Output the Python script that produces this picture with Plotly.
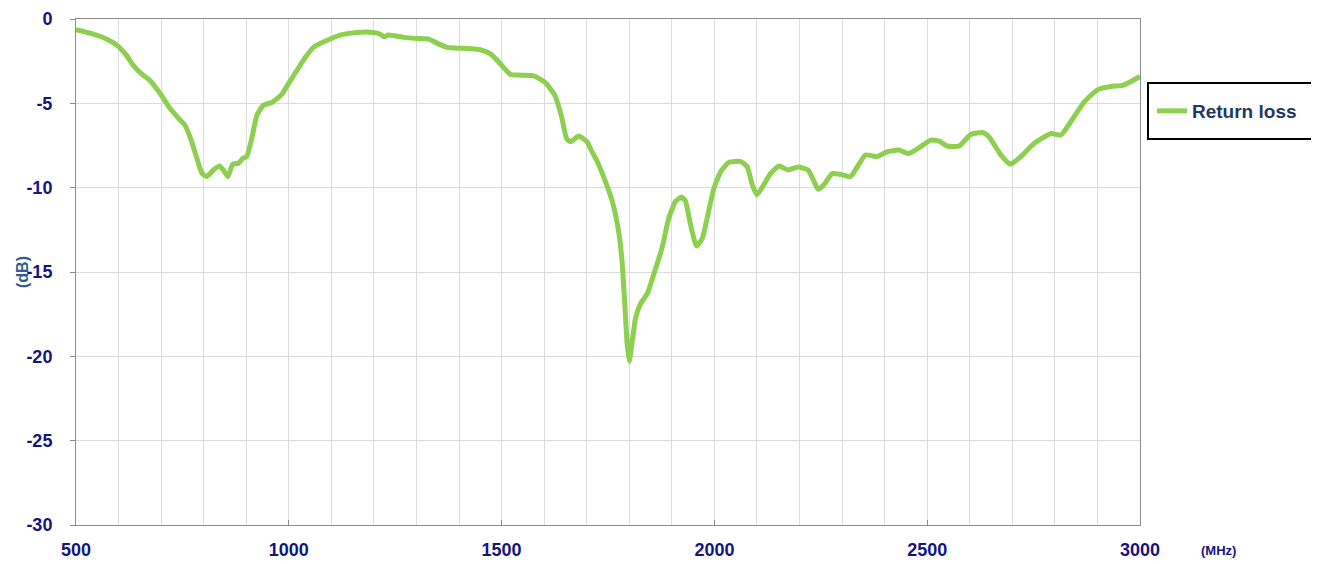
import plotly.graph_objects as go

freq_mhz = [500, 541, 572, 600, 619, 635, 654, 674, 698, 721, 745, 756, 772, 784, 796, 807,
            823, 837, 846, 857, 868, 882, 892, 901, 913, 925, 940, 960, 984, 1000, 1019, 1039,
            1058, 1097, 1125, 1160, 1199, 1215, 1224, 1234, 1270, 1301, 1329, 1348, 1372, 1411,
            1450, 1474, 1497, 1521, 1544, 1576, 1604, 1625, 1640, 1653, 1662, 1681, 1701, 1709,
            1725, 1744, 1760, 1775, 1783, 1789, 1795, 1800, 1805, 1815, 1826, 1842, 1858, 1877,
            1893, 1909, 1923, 1932, 1944, 1958, 1972, 1983, 1999, 2015, 2034, 2062, 2077, 2089,
            2100, 2116, 2132, 2152, 2173, 2197, 2220, 2234, 2244, 2257, 2277, 2300, 2320, 2355,
            2382, 2406, 2433, 2457, 2485, 2508, 2528, 2547, 2575, 2602, 2630, 2645, 2673, 2695,
            2720, 2751, 2791, 2814, 2845, 2869, 2900, 2931, 2959, 2979, 3000]
return_loss_db = [-0.64, -0.90, -1.19, -1.64, -2.17, -2.76, -3.25, -3.64, -4.43, -5.31, -6.00, -6.30,
                  -7.28, -8.26, -9.14, -9.34, -8.95, -8.71, -8.95, -9.34, -8.61, -8.55, -8.26, -8.16,
                  -7.08, -5.71, -5.11, -4.96, -4.45, -3.80, -3.05, -2.27, -1.68, -1.19, -0.93, -0.80,
                  -0.80, -0.90, -1.05, -0.95, -1.09, -1.15, -1.19, -1.43, -1.68, -1.74, -1.82, -2.07,
                  -2.65, -3.29, -3.33, -3.37, -3.80, -4.53, -5.70, -7.10, -7.28, -6.94, -7.28, -7.70,
                  -8.46, -9.64, -10.80, -12.60, -14.35, -16.70, -19.26, -20.30, -19.46, -17.70, -16.90,
                  -16.30, -15.10, -13.57, -11.80, -10.80, -10.56, -10.80, -12.20, -13.46, -12.98, -11.80,
                  -10.03, -9.05, -8.50, -8.45, -8.75, -9.83, -10.42, -9.83, -9.15, -8.72, -8.95, -8.77,
                  -8.95, -9.63, -10.10, -9.83, -9.17, -9.24, -9.34, -8.06, -8.16, -7.87, -7.77, -7.97,
                  -7.57, -7.18, -7.24, -7.53, -7.53, -6.85, -6.73, -6.98, -8.06, -8.61, -8.16, -7.38,
                  -6.79, -6.88, -5.80, -4.92, -4.20, -4.00, -3.94, -3.70, -3.41]

x_ticks = [500, 1000, 1500, 2000, 2500, 3000]
y_ticks = [0, -5, -10, -15, -20, -25, -30]
y_tick_text = ["0", "-5", "-10", "-15", "-20", "-25", "-30"]

FONT = "Liberation Sans, Arial, sans-serif"
NAVY = "#15157f"

# page body adds an ~8px offset; margins compensate so the plot lands at the reference position
L, T, R, B = 68, 11, 187, 47
PW, PH = 1319 - L - R, 564 - T - B


def px_x(px):
    return (px - 8 - L) / PW


def px_y(py):
    return (564 - B - (py - 8)) / PH


fig = go.Figure()
fig.add_trace(go.Scatter(
    x=freq_mhz, y=return_loss_db, mode="lines", name="<b>Return loss</b>",
    line=dict(color="#8DD04F", width=5, shape="spline", smoothing=0.5),
))

fig.update_layout(
    width=1319, height=564,
    margin=dict(l=L, r=R, t=T, b=B, autoexpand=False),
    paper_bgcolor="white", plot_bgcolor="white",
    font=dict(family=FONT),
    showlegend=True,
    legend=dict(x=px_x(1152), y=px_y(111), xanchor="left", yanchor="middle",
                bgcolor="rgba(0,0,0,0)", borderwidth=0,
                font=dict(family=FONT, size=19, color="#1f3864")),
    xaxis=dict(range=[500, 3000], tickmode="array", tickvals=x_ticks,
               showgrid=True, gridcolor="#dcdcdc",
               minor=dict(tickmode="linear", tick0=500, dtick=100, showgrid=True, gridcolor="#dcdcdc"),
               showline=True, mirror=True, linecolor="#8c8c8c", linewidth=1,
               ticks="inside", ticklen=5, tickcolor="#8c8c8c", automargin=False,
               ticklabeloverflow="allow",
               tickfont=dict(family=FONT, size=18, color=NAVY, weight="bold"), ticklabelstandoff=8,
               zeroline=False),
    yaxis=dict(range=[-30, 0], tickmode="array", tickvals=y_ticks, ticktext=y_tick_text, showgrid=True,
               gridcolor="#dcdcdc", showline=True, mirror=True, linecolor="#8c8c8c", linewidth=1,
               ticks="outside", ticklen=5, tickcolor="#8c8c8c", automargin=False,
               ticklabeloverflow="allow",
               tickfont=dict(family=FONT, size=18, color=NAVY, weight="bold"), ticklabelstandoff=14,
               zeroline=False),
    shapes=[dict(type="rect", xref="paper", yref="paper", x0=px_x(1148), x1=px_x(1312),
                 y0=px_y(139), y1=px_y(83), line=dict(color="black", width=2))],
    annotations=[
        dict(text="<b>(dB)</b>", xref="paper", yref="paper", x=px_x(22), y=px_y(272),
             xanchor="center", yanchor="middle",
             textangle=-90, showarrow=False, font=dict(family=FONT, size=16, color="#2f5d8c")),
        dict(text="<b>(MHz)</b>", xref="paper", yref="paper", x=px_x(1218), y=px_y(550),
             xanchor="center", yanchor="middle",
             showarrow=False, font=dict(family=FONT, size=13, color=NAVY)),
    ],
)

fig.write_html("out.html")
